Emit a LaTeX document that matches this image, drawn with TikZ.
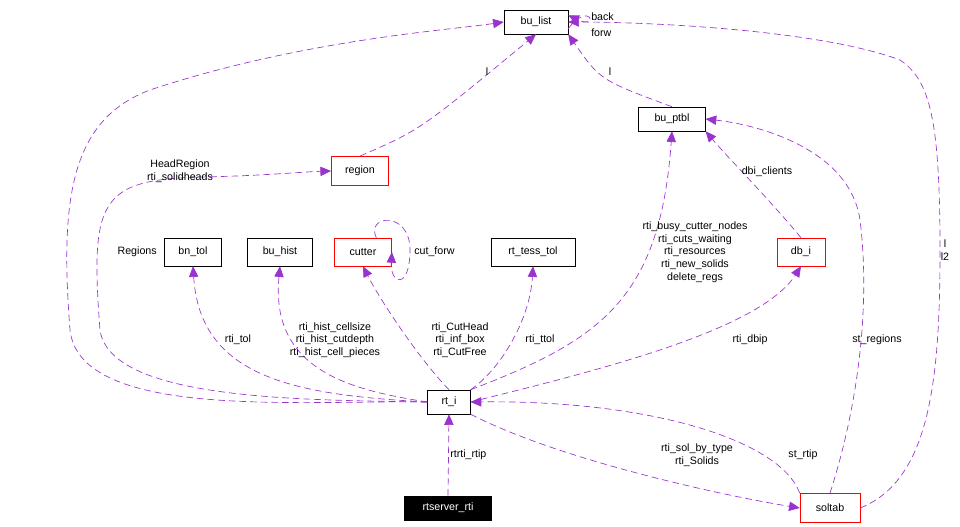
\documentclass[tikz,border=0pt]{standalone}
\usepackage{fontspec}
\setmainfont{Liberation Sans}
\usetikzlibrary{arrows.meta}
\begin{document}
\begin{tikzpicture}[x=0.75pt,y=-0.75pt,
 box/.style={draw=black,fill=white,inner sep=0pt,minimum height=18pt,font=\fontsize{8}{9.5}\selectfont},
 rbox/.style={box,draw=red},
 e/.style={draw={rgb,255:red,154;green,50;blue,205},dash pattern=on 5pt off 3pt,line width=0.5pt,-{Triangle[length=8pt,width=7pt,fill={rgb,255:red,154;green,50;blue,205}]}},
 lb/.style={font=\fontsize{8}{9.5}\selectfont,align=center,inner sep=0pt}]
\useasboundingbox (0,0) rectangle (960,527);
\node[box,minimum width=48pt] (bl) at (536,22) {bu\_list};
\node[box,minimum width=50pt] (bp) at (672,119) {bu\_ptbl};
\node[rbox,minimum width=43pt,minimum height=22pt] (rg) at (360,171) {region};
\node[box,minimum width=43pt,minimum height=21pt] (bn) at (193,252) {bn\_tol};
\node[box,minimum width=49pt,minimum height=21pt] (bh) at (280,252) {bu\_hist};
\node[rbox,minimum width=43pt,minimum height=21pt] (cu) at (363,252) {cutter};
\node[box,minimum width=63pt,minimum height=21pt] (tt) at (533,252) {rt\_tess\_tol};
\node[rbox,minimum width=36pt,minimum height=21pt] (db) at (801,252) {db\_i};
\node[box,minimum width=32pt] (ri) at (449,402) {rt\_i};
\node[box,fill=black,text=white,minimum width=65pt] (rs) at (448,508) {rtserver\_rti};
\node[rbox,minimum width=45pt,minimum height=22pt] (so) at (830,508) {soltab};
\coordinate (blA) at ([yshift=-5]bl.east);
\coordinate (blB) at ([yshift=5]bl.east);
\draw[e] (blA) .. controls (590,0) and (600,30) .. (blB);
\node[lb,anchor=west] at (591,17) {back};
\node[lb,anchor=west] at (591,33) {forw};
\draw[e] (rg.north) .. controls (420,130) .. (bl.south);
\node[lb] at (487,72) {l};
\draw[e] (bp.north) .. controls (600,80) .. (bl.south east);
\node[lb] at (610,72) {l};
\draw[e] (so.east) .. controls (930,480) and (940,380) .. (940,250) .. controls (940,120) and (930,80) .. (900,60) .. controls (820,30) and (650,22) .. (bl.east);
\node[lb] at (945,250) {l\\l2};
\draw[e] (ri.west) .. controls (300,400) and (80,420) .. (70,330) .. controls (60,200) and (70,120) .. (150,90) .. controls (300,40) and (450,30) .. (bl.west);
\node[lb,anchor=east] at (157,252) {Regions};
\draw[e] (ri.west) .. controls (300,400) and (110,400) .. (100,330) .. controls (90,200) and (100,180) .. (200,177) .. controls (260,176) and (300,172) .. (rg.west);
\node[lb] at (180,171) {HeadRegion\\rti\_solidheads};
\draw[e] (ri.west) .. controls (300,395) and (200,380) .. (bn.south);
\node[lb] at (238,340) {rti\_tol};
\draw[e] (ri.west) .. controls (350,390) and (270,370) .. (bh.south);
\node[lb] at (335,340) {rti\_hist\_cellsize\\rti\_hist\_cutdepth\\rti\_hist\_cell\_pieces};
\draw[e] (ri.north) .. controls (420,360) and (380,300) .. (cu.south);
\node[lb] at (460,340) {rti\_CutHead\\rti\_inf\_box\\rti\_CutFree};
\coordinate (cuA) at ([xshift=10]cu.north);
\coordinate (cuB) at ([yshift=-5]cu.east);
\draw[e] (cuA) .. controls (365,215) and (410,210) .. (410,250) .. controls (410,290) and (390,285) .. (cu.east);
\node[lb,anchor=west] at (414,252) {cut\_forw};
\draw[e] (ri.north east) .. controls (500,370) and (530,320) .. (tt.south);
\node[lb] at (540,340) {rti\_ttol};
\draw[e] (ri.north east) .. controls (600,340) and (660,300) .. (bp.south);
\node[lb] at (695,252) {rti\_busy\_cutter\_nodes\\rti\_cuts\_waiting\\rti\_resources\\rti\_new\_solids\\delete\_regs};
\draw[e] (ri.east) .. controls (600,370) and (760,330) .. (db.south);
\node[lb] at (750,340) {rti\_dbip};
\draw[e] (db.north) .. controls (770,200) and (730,160) .. (bp.south east);
\node[lb] at (767,172) {dbi\_clients};
\draw[e] (so.north) .. controls (860,400) and (870,300) .. (860,220) .. controls (850,150) and (760,125) .. (bp.east);
\node[lb] at (877,340) {st\_regions};
\draw[e] (so.north west) .. controls (780,440) and (650,400) .. (ri.east);
\node[lb] at (803,455) {st\_rtip};
\draw[e] (ri.south east) .. controls (560,460) and (720,495) .. (so.west);
\node[lb] at (697,455) {rti\_sol\_by\_type\\rti\_Solids};
\draw[e] (rs.north) -- (ri.south);
\node[lb,anchor=west] at (450,455) {rtrti\_rtip};
\end{tikzpicture}
\end{document}
